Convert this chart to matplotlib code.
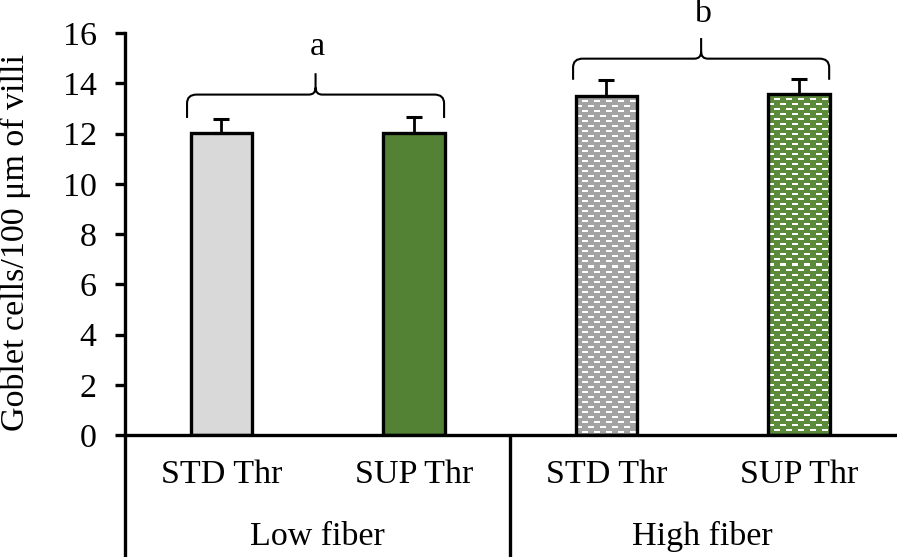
import numpy as np
import matplotlib
matplotlib.use("Agg")
import matplotlib.pyplot as plt
from matplotlib.path import Path
from matplotlib.patches import PathPatch

plt.rcParams['font.family'] = ['Liberation Serif', 'DejaVu Serif']

# ---- data ----
treatments = ['STD Thr', 'SUP Thr', 'STD Thr', 'SUP Thr']
groups = ['Low fiber', 'High fiber']
values = [12.03, 12.03, 13.50, 13.59]
errors = [0.56, 0.63, 0.64, 0.60]
group_letters = ['a', 'b']
yticks = [0, 2, 4, 6, 8, 10, 12, 14, 16]
ylabel = 'Goblet cells/100 μm of villi'

# ---- style ----
base_colors = ['#d9d9d9', '#548235', '#a3a3a3', '#5b8a3a']
patterned = [False, False, True, True]
bar_w = 0.32
fs = 24.5

fig = plt.figure(figsize=(8.97, 5.57), dpi=100)
ax = fig.add_axes([0.1394, 0.219, 0.8586, 0.7217])
ax.set_xlim(-0.5, 3.5)
ax.set_ylim(0, 16)

x = np.arange(len(values))

px_per_x = 0.8586 * 897 / 4.0
px_per_y = 0.7217 * 557 / 16.0


def brick_texture(color, w_px, h_px):
    rgb = np.array(matplotlib.colors.to_rgb(color))
    arr = np.ones((h_px, w_px, 3)) * rgb
    period_y, dash_h, dash_len, period_x = 5, 2, 6, 12
    for row in range(0, h_px, period_y):
        k = row // period_y
        off = (k % 2) * (period_x // 2)
        for col0 in range(-period_x + off, w_px, period_x):
            c0, c1 = max(col0, 0), min(col0 + dash_len, w_px)
            if c1 > c0:
                arr[row:row + dash_h, c0:c1, :] = 1.0
    return arr


for xi, v, c, pat in zip(x, values, base_colors, patterned):
    if pat:
        wpx = int(round(bar_w * px_per_x))
        hpx = int(round(v * px_per_y))
        tex = brick_texture(c, wpx, hpx)
        ax.imshow(tex, extent=[xi - bar_w / 2, xi + bar_w / 2, 0, v],
                  origin='upper', aspect='auto', interpolation='nearest', zorder=1)
        ax.bar(xi, v, width=bar_w, facecolor='none', edgecolor='black',
               linewidth=2.4, zorder=2)
    else:
        ax.bar(xi, v, width=bar_w, facecolor=c, edgecolor='black',
               linewidth=2.4, zorder=2)

ax.set_xlim(-0.5, 3.5)
ax.set_ylim(0, 16)

ax.errorbar(x, values, yerr=[np.zeros(len(errors)), errors], fmt='none',
            ecolor='black', elinewidth=2, capsize=6, capthick=2.2, zorder=3)

# axes styling
for s in ['top', 'right']:
    ax.spines[s].set_visible(False)
ax.spines['left'].set_linewidth(2.4)
ax.spines['bottom'].set_linewidth(2.4)
ax.set_yticks(yticks)
ax.set_yticklabels([str(t) for t in yticks], fontsize=fs)
ax.tick_params(axis='y', direction='out', length=7.5, width=2.4, pad=13)
ax.set_xticks([])
ax.set_ylabel(ylabel, fontsize=fs)
ax.yaxis.set_label_coords(-0.122, 0.48)

# category box below axis
trans = ax.get_xaxis_transform()
ybot = -0.31
for xs in [-0.5, 1.5]:
    ax.plot([xs, xs], [0, ybot], transform=trans, color='black', lw=2.4,
            clip_on=False, solid_capstyle='butt')
for xi, lab in zip(x, treatments):
    ax.text(xi, -0.098, lab, transform=trans, ha='center', va='center', fontsize=fs)
for gi, g in enumerate(groups):
    ax.text(gi * 2 + 0.5, -0.252, g, transform=trans, ha='center', va='center', fontsize=fs)


# braces with letters
def brace(x0, x1, y_end, y_h, y_peak, rx=0.05, ry=0.35, cx=0.035, cy=0.28):
    xc = (x0 + x1) / 2
    verts = [(x0, y_end), (x0, y_h - ry), (x0, y_h), (x0 + rx, y_h),
             (xc - cx, y_h), (xc, y_h), (xc, y_h + cy), (xc, y_peak),
             (xc, y_h + cy), (xc, y_h), (xc + cx, y_h),
             (x1 - rx, y_h), (x1, y_h), (x1, y_h - ry), (x1, y_end)]
    codes = [Path.MOVETO, Path.LINETO, Path.CURVE3, Path.CURVE3,
             Path.LINETO, Path.CURVE3, Path.CURVE3, Path.LINETO,
             Path.MOVETO, Path.CURVE3, Path.CURVE3,
             Path.LINETO, Path.CURVE3, Path.CURVE3, Path.LINETO]
    ax.add_patch(PathPatch(Path(verts, codes), facecolor='none', edgecolor='black',
                           lw=1.5, clip_on=False, zorder=4))


brace(-0.178, 1.157, 12.62, 13.55, 14.4)
ax.text(0.5, 15.46, group_letters[0], ha='center', va='center', fontsize=fs, clip_on=False)
brace(1.827, 3.157, 14.14, 14.98, 15.8)
ax.text(2.5, 16.75, group_letters[1], ha='center', va='center', fontsize=fs, clip_on=False)

fig.savefig('out.png', dpi=100)
